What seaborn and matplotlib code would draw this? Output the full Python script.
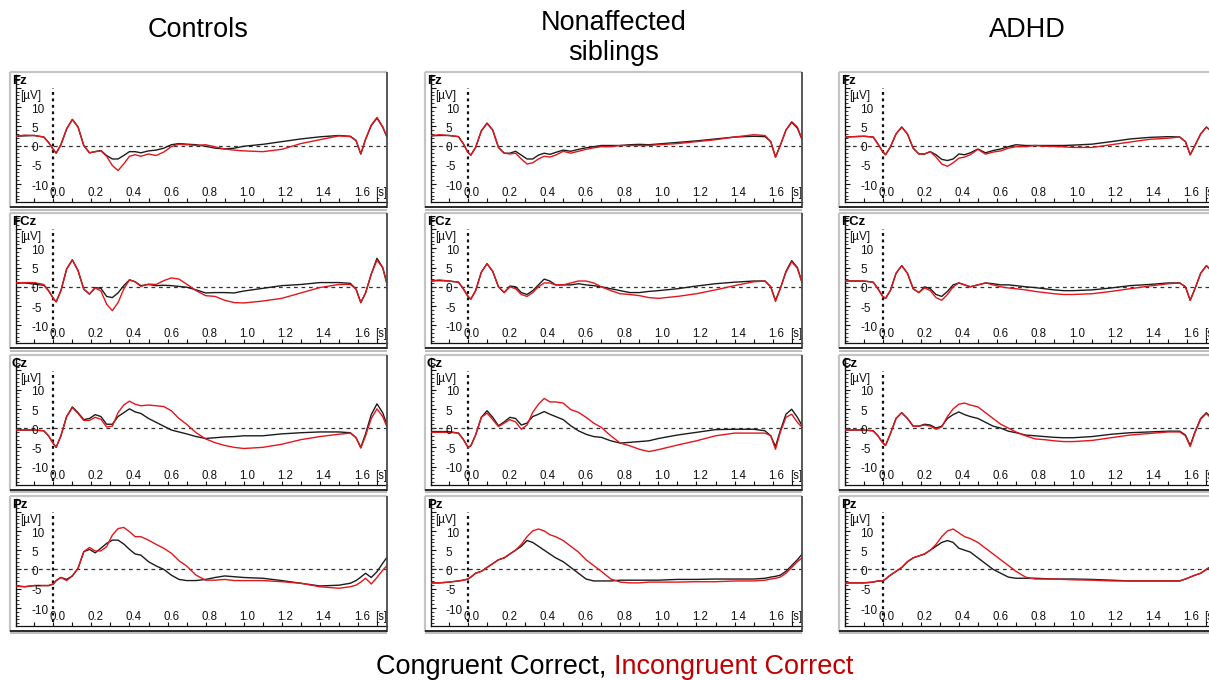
import matplotlib
matplotlib.use("Agg")
import matplotlib.pyplot as plt
from matplotlib.lines import Line2D
from matplotlib.ticker import MultipleLocator
import numpy as np
import pandas as pd
import seaborn as sns

sns.set_theme(style="white")
plt.rcParams["font.family"] = ["Liberation Sans", "DejaVu Sans"]

# ---------------------------------------------------------------- data
time_s = [-0.2, -0.15, -0.1, -0.05, -0.025, 0.0, 0.015, 0.04, 0.07, 0.1, 0.13,
          0.16, 0.19, 0.22, 0.25, 0.28, 0.31, 0.34, 0.37, 0.4, 0.43, 0.46, 0.5,
          0.54, 0.58, 0.62, 0.66, 0.7, 0.75, 0.8, 0.85, 0.9, 0.95, 1.0, 1.1,
          1.2, 1.3, 1.4, 1.5, 1.56, 1.59, 1.615, 1.64, 1.67, 1.7, 1.73, 1.755]

groups = ["Controls", "Nonaffected\nsiblings", "ADHD"]
channels = ["Fz", "FCz", "Cz", "Pz"]
conditions = ["Congruent Correct", "Incongruent Correct"]
x_ticks = [0.0, 0.2, 0.4, 0.6, 0.8, 1.0, 1.2, 1.4, 1.6]
y_ticks = [10, 5, 0, -5, -10]

# Controls
ctl_fz_con = [2.4, 2.5, 2.6, 2.2, 0.8, -1.0, -2.0, 0.2, 4.3, 6.75, 4.8, 0.0, -1.9, -1.6, -1.3, -2.6, -3.5, -3.5, -2.6, -1.6, -1.6, -1.9, -1.4, -1.2, -0.7, 0.2, 0.5, 0.35, 0.2, -0.2, -0.7, -0.9, -0.7, -0.2, 0.3, 1.0, 1.7, 2.25, 2.6, 2.4, 1.3, -2.2, 1.6, 5.2, 7.1, 4.8, 1.9]
ctl_fz_inc = [2.4, 2.7, 2.6, 2.2, 0.8, -1.0, -2.0, 0.2, 4.3, 6.8, 4.8, 0.0, -1.9, -1.6, -1.4, -2.8, -5.2, -6.5, -4.8, -2.8, -2.4, -2.8, -2.2, -2.6, -1.7, -0.3, 0.35, 0.2, 0.0, 0.2, -0.35, -0.9, -1.2, -1.4, -1.6, -1.0, 0.5, 1.5, 2.5, 2.3, 1.3, -2.2, 1.6, 5.3, 7.3, 4.9, 1.9]
ctl_fcz_con = [1.0, 1.0, 0.7, 0.4, -1.0, -3.0, -3.9, -1.0, 4.6, 7.0, 4.2, -0.6, -1.9, -0.2, -0.4, -2.5, -2.8, -1.6, 0.3, 1.8, 1.3, 0.3, 0.6, 0.3, 0.4, 0.3, 0.1, -0.1, -0.8, -1.6, -1.5, -1.5, -1.6, -1.1, -0.4, 0.3, 0.6, 1.1, 1.1, 0.9, -0.6, -4.1, -1.6, 3.3, 7.4, 5.0, 0.3]
ctl_fcz_inc = [1.0, 1.1, 1.1, 0.6, -1.0, -3.0, -3.9, -1.0, 4.6, 7.0, 4.2, -0.6, -1.9, -0.3, -1.1, -4.5, -6.2, -4.1, -0.6, 1.8, 1.3, 0.1, 0.7, 0.6, 1.6, 2.3, 2.0, 0.7, -1.0, -2.3, -2.5, -3.5, -4.1, -4.2, -3.7, -3.0, -1.6, -0.2, 0.6, 0.6, -0.6, -4.1, -1.6, 3.3, 6.9, 5.0, 0.3]
ctl_cz_con = [-0.5, -0.5, -0.5, -0.7, -2.0, -4.0, -5.0, -2.0, 3.0, 5.5, 4.0, 2.2, 2.5, 3.5, 3.0, 1.0, 1.0, 3.0, 4.0, 5.0, 4.2, 3.8, 2.5, 1.5, 0.5, -0.5, -1.0, -1.5, -2.2, -2.7, -2.5, -2.3, -2.2, -2.0, -2.0, -1.5, -1.2, -1.0, -1.0, -1.2, -2.5, -5.0, -1.5, 3.5, 6.3, 4.0, 0.5]
ctl_cz_inc = [-0.5, -0.5, -0.5, -0.7, -2.0, -4.0, -5.0, -2.0, 3.0, 5.3, 3.8, 2.0, 2.0, 2.8, 2.3, 0.3, 0.5, 4.0, 6.0, 7.0, 6.2, 5.8, 6.0, 5.8, 5.6, 4.5, 2.5, 1.0, -1.2, -2.8, -3.8, -4.5, -5.0, -5.3, -5.0, -4.2, -3.0, -2.2, -1.6, -1.3, -2.5, -5.2, -2.0, 2.5, 5.0, 3.0, 0.0]
ctl_pz_con = [-4.3, -4.5, -4.2, -4.2, -4.2, -3.8, -2.9, -2.1, -2.6, -1.7, 0.3, 4.6, 5.2, 4.3, 5.5, 6.75, 7.6, 7.6, 6.6, 5.2, 4.0, 3.7, 2.0, 0.9, 0.0, -1.5, -2.6, -2.9, -2.9, -2.6, -2.1, -1.7, -1.9, -2.1, -2.3, -2.9, -3.6, -4.3, -4.1, -3.6, -2.9, -2.0, -1.0, -2.1, -0.6, 1.6, 3.3]
ctl_pz_inc = [-4.3, -4.5, -4.2, -4.2, -4.2, -3.8, -2.9, -2.1, -2.9, -1.7, 0.3, 4.6, 5.7, 4.8, 4.8, 5.9, 8.9, 10.6, 10.9, 9.8, 8.5, 8.5, 7.6, 6.5, 5.5, 4.2, 2.25, 0.9, -1.5, -2.8, -2.8, -2.6, -2.9, -2.9, -2.9, -3.2, -3.6, -4.5, -4.9, -4.5, -4.1, -3.3, -2.3, -3.8, -2.1, -0.2, 1.1]

# Nonaffected siblings
sib_fz_con = [2.5, 2.6, 2.6, 2.3, 0.5, -1.8, -2.5, -0.5, 3.8, 5.8, 4.0, -0.5, -2.0, -2.0, -1.5, -2.5, -3.5, -3.5, -2.5, -2.0, -2.3, -1.8, -1.2, -1.5, -1.0, -0.6, -0.3, 0.0, 0.0, 0.0, 0.2, 0.3, 0.2, 0.4, 0.8, 1.2, 1.7, 2.2, 2.4, 2.3, 1.0, -3.0, 0.0, 4.0, 6.0, 4.5, 1.5]
sib_fz_inc = [2.5, 2.8, 2.6, 2.3, 0.5, -1.8, -2.5, -0.5, 3.8, 5.8, 4.0, -0.5, -2.0, -2.2, -2.0, -3.5, -4.8, -4.5, -3.5, -2.8, -3.0, -2.5, -1.5, -2.0, -1.5, -1.0, -0.6, -0.3, -0.3, 0.0, 0.0, 0.0, 0.0, 0.2, 0.5, 1.0, 1.5, 2.2, 2.8, 2.6, 1.0, -3.0, 0.0, 4.0, 6.2, 4.8, 1.5]
sib_fcz_con = [1.5, 1.6, 1.5, 1.2, -0.5, -2.5, -3.2, -1.0, 3.8, 6.0, 4.0, 0.0, -1.5, 0.2, 0.0, -1.5, -2.0, -1.0, 0.5, 2.0, 1.5, 0.5, 0.5, 0.5, 0.8, 0.5, 0.3, 0.0, -0.5, -1.0, -1.5, -1.5, -1.2, -1.0, -0.5, 0.2, 0.8, 1.2, 1.5, 1.5, 0.0, -3.5, -0.5, 4.0, 6.8, 5.0, 1.0]
sib_fcz_inc = [1.5, 1.8, 1.5, 1.2, -0.5, -2.5, -3.2, -1.0, 3.8, 6.0, 4.0, 0.0, -1.5, 0.0, -0.5, -2.0, -2.5, -1.5, 0.0, 1.0, 1.0, 0.5, 0.5, 1.0, 1.5, 1.5, 1.0, 0.0, -1.0, -1.8, -2.0, -2.3, -2.8, -3.0, -2.5, -1.8, -0.8, 0.3, 1.3, 1.5, 0.0, -3.8, -0.5, 3.8, 6.5, 4.8, 1.0]
sib_cz_con = [-0.9, -0.9, -0.9, -1.3, -2.9, -5.0, -4.6, -1.8, 2.8, 4.5, 2.8, 0.6, 1.6, 2.8, 2.5, 0.8, 1.3, 3.0, 3.6, 4.3, 3.6, 3.0, 2.2, 0.6, -0.7, -1.6, -2.2, -2.4, -3.3, -3.9, -3.7, -3.5, -3.3, -2.7, -1.8, -1.1, -0.4, -0.3, -0.3, -0.7, -2.0, -4.8, -0.7, 3.6, 4.9, 2.8, 0.6]
sib_cz_inc = [-1.1, -1.1, -1.1, -1.3, -2.9, -5.0, -4.6, -1.8, 2.8, 3.9, 2.2, 0.4, 1.3, 2.2, 1.6, -0.3, 0.8, 4.1, 6.2, 7.7, 6.8, 6.8, 6.5, 4.8, 4.1, 2.8, 1.3, 0.2, -2.0, -3.9, -4.6, -5.5, -6.1, -5.6, -4.4, -3.3, -2.0, -1.3, -1.3, -1.3, -2.0, -5.5, -1.1, 2.8, 3.6, 1.5, 0.2]
sib_pz_con = [-3.5, -3.5, -3.3, -3.0, -2.8, -2.5, -2.0, -1.0, -0.5, 0.5, 1.5, 2.5, 3.0, 4.0, 5.0, 6.0, 7.5, 7.0, 6.0, 5.0, 4.0, 3.0, 2.0, 0.5, -1.0, -2.5, -3.0, -3.0, -3.0, -2.8, -2.8, -2.8, -2.8, -2.8, -2.6, -2.6, -2.5, -2.5, -2.5, -2.3, -2.0, -1.8, -1.5, -0.5, 1.0, 2.5, 4.0]
sib_pz_inc = [-3.5, -3.5, -3.3, -3.0, -2.8, -2.5, -2.0, -1.0, -0.5, 0.5, 1.5, 2.5, 3.0, 4.0, 5.0, 6.5, 8.5, 10.0, 10.5, 10.0, 9.0, 8.5, 7.5, 6.0, 4.5, 2.5, 1.0, -0.5, -2.5, -3.3, -3.5, -3.5, -3.3, -3.3, -3.3, -3.2, -3.2, -3.0, -3.0, -2.8, -2.5, -2.3, -2.0, -1.0, 0.5, 2.0, 3.0]

# ADHD
adhd_fz_con = [2.2, 2.3, 2.4, 2.2, 0.4, -1.6, -2.4, -0.4, 3.0, 4.8, 3.0, -0.7, -2.2, -2.2, -1.6, -2.4, -3.6, -3.9, -3.5, -2.2, -2.4, -1.9, -0.9, -1.9, -1.3, -0.9, -0.3, 0.2, 0.0, 0.0, 0.0, 0.0, 0.0, 0.1, 0.35, 1.0, 1.7, 2.1, 2.3, 2.2, 1.0, -2.4, 0.0, 3.0, 4.8, 3.5, 1.0]
adhd_fz_inc = [2.2, 2.3, 2.4, 2.2, 0.4, -1.6, -2.4, -0.4, 3.0, 4.8, 3.0, -0.7, -2.2, -2.2, -1.6, -3.0, -4.8, -5.4, -4.5, -3.3, -3.0, -2.4, -1.0, -2.25, -1.7, -1.4, -0.7, -0.3, -0.3, 0.0, -0.2, -0.25, -0.35, -0.5, -0.5, 0.2, 0.9, 1.6, 1.9, 2.2, 1.0, -2.4, 0.0, 3.0, 4.8, 3.5, 1.0]
adhd_fcz_con = [1.5, 1.5, 1.5, 1.2, -0.5, -2.5, -3.0, -1.0, 3.5, 5.5, 3.5, -0.5, -1.5, 0.0, -0.5, -2.0, -2.5, -1.2, 0.5, 1.0, 0.5, 0.0, 0.5, 1.0, 0.8, 0.5, 0.5, 0.3, 0.0, -0.2, -0.5, -0.8, -1.0, -1.0, -0.8, -0.3, 0.3, 0.6, 1.0, 1.0, 0.0, -3.5, -0.5, 3.5, 5.5, 4.0, 0.5]
adhd_fcz_inc = [1.5, 1.5, 1.5, 1.2, -0.5, -2.5, -3.0, -1.0, 3.5, 5.5, 3.5, -0.5, -1.5, -0.3, -1.0, -2.8, -3.5, -2.0, 0.0, 1.0, 0.5, 0.0, 0.5, 1.0, 0.5, 0.0, -0.3, -0.5, -0.8, -1.2, -1.5, -1.8, -2.0, -2.0, -1.8, -1.2, -0.5, 0.2, 0.8, 1.0, 0.0, -3.5, -0.5, 3.5, 5.5, 4.0, 0.5]
adhd_cz_con = [-0.5, -0.5, -0.5, -0.7, -2.0, -3.8, -4.5, -1.5, 2.5, 4.0, 2.5, 0.5, 0.5, 1.0, 0.8, 0.0, 0.5, 2.5, 3.5, 4.2, 3.5, 3.0, 2.5, 1.5, 0.5, 0.0, -0.8, -1.2, -1.8, -2.0, -2.2, -2.4, -2.5, -2.5, -2.2, -1.6, -1.2, -1.0, -0.8, -0.8, -1.8, -4.5, -1.0, 2.5, 4.0, 2.5, 0.0]
adhd_cz_inc = [-0.5, -0.5, -0.5, -0.7, -2.0, -3.8, -4.5, -1.5, 2.5, 4.0, 2.5, 0.5, 0.5, 0.8, 0.5, -0.3, 0.3, 3.0, 5.0, 6.2, 6.5, 6.0, 5.5, 4.0, 2.5, 1.0, 0.0, -1.0, -2.0, -2.8, -3.0, -3.3, -3.5, -3.5, -3.2, -2.5, -1.8, -1.4, -1.0, -1.0, -2.0, -4.8, -1.2, 2.3, 3.8, 2.3, -0.2]
adhd_pz_con = [-3.5, -3.5, -3.5, -3.3, -3.0, -3.0, -2.5, -1.5, -0.5, 0.5, 2.0, 3.0, 3.5, 4.0, 5.0, 6.0, 7.0, 7.5, 7.0, 5.5, 5.0, 4.5, 3.0, 1.5, 0.0, -1.0, -2.0, -2.3, -2.3, -2.3, -2.4, -2.5, -2.5, -2.5, -2.6, -2.8, -3.0, -3.0, -3.0, -3.0, -2.5, -2.0, -1.5, -1.0, 0.0, 1.0, 2.0]
adhd_pz_inc = [-3.5, -3.5, -3.5, -3.3, -3.0, -3.0, -2.5, -1.5, -0.5, 0.5, 2.0, 3.0, 3.5, 4.0, 5.0, 6.5, 8.5, 10.0, 10.5, 9.5, 8.5, 8.0, 7.0, 5.5, 4.0, 2.5, 1.0, -0.5, -2.0, -2.5, -2.5, -2.5, -2.6, -2.7, -2.8, -3.0, -3.0, -3.0, -3.0, -3.0, -2.5, -2.0, -1.5, -1.0, 0.0, 1.0, 2.0]

waves = {
    0: [(ctl_fz_con, ctl_fz_inc), (ctl_fcz_con, ctl_fcz_inc),
        (ctl_cz_con, ctl_cz_inc), (ctl_pz_con, ctl_pz_inc)],
    1: [(sib_fz_con, sib_fz_inc), (sib_fcz_con, sib_fcz_inc),
        (sib_cz_con, sib_cz_inc), (sib_pz_con, sib_pz_inc)],
    2: [(adhd_fz_con, adhd_fz_inc), (adhd_fcz_con, adhd_fcz_inc),
        (adhd_cz_con, adhd_cz_inc), (adhd_pz_con, adhd_pz_inc)],
}

# ---------------------------------------------------------------- layout
W, H = 1209, 680
fig = plt.figure(figsize=(W / 100, H / 100), dpi=100)

COL_STEP, ROW_STEP = 414.7, 141.3
FRAME_W, FRAME_H = 377, 136
PX_PER_S, PX_PER_UV = 190.4, 3.85
BLACK, RED = "#1c1c1c", "#e3161c"


def fx(px):
    return px / W


def fy(py):
    return 1 - py / H


def fline(x0, y0, x1, y1, color, lw):
    fig.add_artist(Line2D([fx(x0), fx(x1)], [fy(y0), fy(y1)],
                          transform=fig.transFigure, color=color, lw=lw,
                          solid_capstyle="butt"))


for c in range(3):
    for r, ch in enumerate(channels):
        fl = 10 + COL_STEP * c
        ft = 72 + ROW_STEP * r
        # bevelled panel frame
        fline(fl, ft, fl + FRAME_W, ft, "#c4c4c4", 1.6)
        fline(fl, ft, fl, ft + FRAME_H, "#c4c4c4", 1.6)
        fline(fl + FRAME_W, ft, fl + FRAME_W, ft + FRAME_H, "#4a4a4a", 1.3)
        fline(fl, ft + FRAME_H - 1, fl + FRAME_W, ft + FRAME_H - 1, "#2a2a2a", 1.4)
        fline(fl, ft + FRAME_H + 1.5, fl + FRAME_W, ft + FRAME_H + 1.5, "#b0b0b0", 1.2)

        ax_l, ax_r = fl + 6, fl + FRAME_W
        ax_t, ax_b = ft + 3, ft + 130
        zero_px = ft + 73.5
        t0_px = fl + 43.3
        ax = fig.add_axes([fx(ax_l), fy(ax_b), fx(ax_r - ax_l), (ax_b - ax_t) / H])
        ax.patch.set_visible(False)
        ax.set_xlim((ax_l - t0_px) / PX_PER_S, (ax_r - t0_px) / PX_PER_S)
        ax.set_ylim((zero_px - ax_b) / PX_PER_UV, (zero_px - ax_t) / PX_PER_UV)

        for side in ("top", "right"):
            ax.spines[side].set_visible(False)
        ax.spines["left"].set_color("#111111")
        ax.spines["left"].set_linewidth(1.0)
        ax.spines["bottom"].set_color("#111111")
        ax.spines["bottom"].set_linewidth(0.9)

        ax.xaxis.set_major_locator(MultipleLocator(0.1))
        ax.yaxis.set_major_locator(MultipleLocator(5))
        ax.yaxis.set_minor_locator(MultipleLocator(1))
        ax.tick_params(axis="x", which="major", direction="in", length=3,
                       width=0.8, color="#111111", bottom=True,
                       labelbottom=False)
        ax.tick_params(axis="y", which="major", direction="in", length=3.5,
                       width=0.8, color="#111111", left=True, labelleft=False)
        ax.tick_params(axis="y", which="minor", direction="in", length=2,
                       width=0.6, color="#111111", left=True)

        # reference lines
        ax.axhline(0, color="#333333", lw=0.9, ls=(0, (3, 3)), zorder=1)
        ax.vlines(0, (zero_px - (ft + 126)) / PX_PER_UV,
                  (zero_px - (ft + 16)) / PX_PER_UV,
                  color="#111111", lw=1.6, linestyles=(0, (1.3, 1.6)), zorder=1)

        con, inc = waves[c][r]
        df = pd.DataFrame({"t": time_s * 2,
                           "uV": con + inc,
                           "cond": [conditions[0]] * len(time_s)
                           + [conditions[1]] * len(time_s)})
        sns.lineplot(data=df, x="t", y="uV", hue="cond",
                     palette={conditions[0]: BLACK, conditions[1]: RED},
                     estimator=None, sort=False, lw=1.0, legend=False,
                     ax=ax, zorder=3)
        ax.set_xlabel("")
        ax.set_ylabel("")

        # scale labels written inside the panel
        ytr = ax.get_yaxis_transform()
        for v in y_ticks:
            ax.text(15 / (ax_r - ax_l), v - 0.7, str(v), transform=ytr,
                    ha="left", va="center", fontsize=8.5, color="#111111")
        xtr = ax.get_xaxis_transform()
        for t in x_ticks:
            ax.text(t + 0.02, 0.071, f"{t:.1f}", transform=xtr, ha="center",
                    va="center", fontsize=8.3, color="#111111")
        ax.text(1.69, 0.071, "[s]", transform=xtr, ha="left", va="center",
                fontsize=8.3, color="#111111", clip_on=True)

        fig.text(fx(fl + 2), fy(ft + 9), ch, ha="left", va="center",
                 fontsize=9.5, fontweight="bold", color="#000000")
        fig.text(fx(fl + 10), fy(ft + 24), "[µV]", ha="left", va="center",
                 fontsize=8.5, color="#111111")

# column titles
title_x = [198, 613.5, 1027]
for name, tx in zip(groups, title_x):
    fig.text(fx(tx), fy(38.5 if "\n" in name else 30), name, ha="center",
             va="center", fontsize=19.5, linespacing=1.2, color="#000000")

# condition key
key_black = fig.text(fx(376), fy(667), conditions[0] + ",", ha="left",
                     va="center", fontsize=19.5, color="#000000")
fig.canvas.draw()
bb = key_black.get_window_extent()
fig.text(bb.x1 / W + fx(7.5), fy(667), conditions[1], ha="left", va="center",
         fontsize=19.5, color="#c00000")

fig.savefig("out.png", dpi=100)
